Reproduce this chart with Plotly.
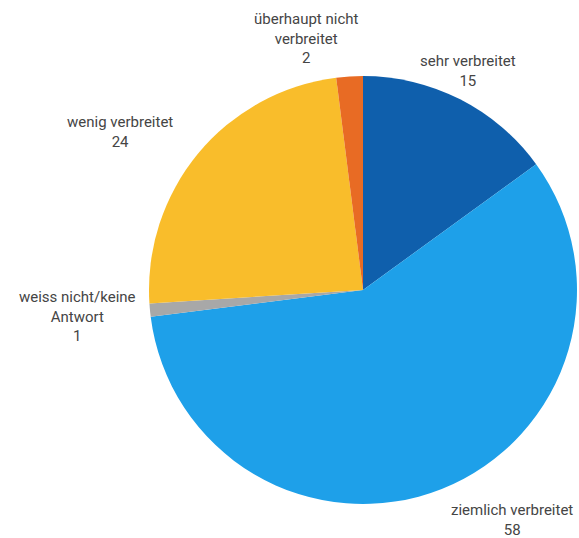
import plotly.graph_objects as go

labels = ["sehr verbreitet", "ziemlich verbreitet", "weiss nicht/keine<br>Antwort",
          "wenig verbreitet", "überhaupt nicht<br>verbreitet"]
values = [15, 58, 1, 24, 2]
colors = ["#0F5FAC", "#1EA0E9", "#A8A8A8", "#F9BD2B", "#E86B24"]
# label block centres (pixels from top-left of the chart)
label_pos = [(468, 71), (512, 520), (77, 316), (120, 132), (306, 38)]

W, H = 579, 538
cx, cy, r = 363, 290, 214
font_family = "Roboto, DejaVu Sans, sans-serif"

fig = go.Figure(go.Pie(
    labels=labels, values=values, sort=False, direction="clockwise", rotation=0,
    marker=dict(colors=colors, line=dict(width=0)),
    textinfo="none", showlegend=False, hoverinfo="label+value",
    domain=dict(x=[(cx - r) / W, (cx + r) / W], y=[(H - cy - r) / H, (H - cy + r) / H]),
))

for lab, val, (px, py) in zip(labels, values, label_pos):
    fig.add_annotation(
        x=px / W, y=1 - py / H, xref="paper", yref="paper",
        text=f"{lab}<br>{val}", showarrow=False, align="center",
        xanchor="center", yanchor="middle",
        font=dict(family=font_family, size=15, color="#454545"),
    )

fig.update_layout(width=W, height=H, margin=dict(l=0, r=0, t=0, b=0),
                  paper_bgcolor="white", plot_bgcolor="white")
fig.write_html("out.html", config={"displayModeBar": False},
               post_script="document.body.style.margin='0';")
